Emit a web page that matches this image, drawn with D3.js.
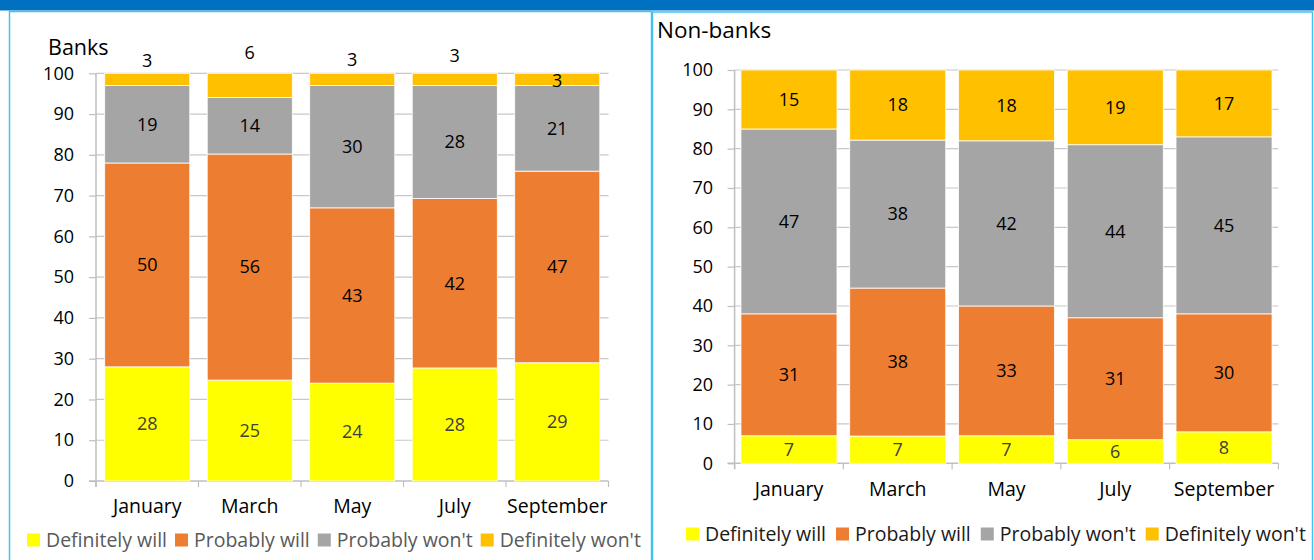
<!DOCTYPE html>
<html>
<head>
<meta charset="utf-8">
<script src="https://cdn.jsdelivr.net/npm/d3@7"></script>
<style>
  html, body { margin: 0; padding: 0; background: #fff; }
  svg { display: block; }
  text { font-family: "Open Sans", Lato, sans-serif; }
</style>
</head>
<body>
<svg id="chart" width="1314" height="560"></svg>
<script>
// ---- data ----
const months = ["January", "March", "May", "July", "September"];
const seriesNames = ["Definitely will", "Probably will", "Probably won't", "Definitely won't"];
const yTicks = [0, 10, 20, 30, 40, 50, 60, 70, 80, 90, 100];

const banksDefinitelyWill   = [28, 25, 24, 28, 29];
const banksProbablyWill     = [50, 56, 43, 42, 47];
const banksProbablyWont     = [19, 14, 30, 28, 21];
const banksDefinitelyWont   = [3, 6, 3, 3, 3];

const nonbanksDefinitelyWill = [7, 7, 7, 6, 8];
const nonbanksProbablyWill   = [31, 38, 33, 31, 30];
const nonbanksProbablyWont   = [47, 38, 42, 44, 45];
const nonbanksDefinitelyWont = [15, 18, 18, 19, 17];

const colors = ["#FFFF00", "#ED7D31", "#A5A5A5", "#FFC000"];

// ---- layout ----
const svg = d3.select("#chart");
const FONT = "Open Sans";

svg.append("rect").attr("x", 0).attr("y", 0).attr("width", 1314).attr("height", 10.5).attr("fill", "#0070C0");
svg.append("rect").attr("x", 9.5).attr("y", 11.5).attr("width", 642).attr("height", 560).attr("fill", "none").attr("stroke", "#45C1EE").attr("stroke-width", 1.5);
svg.append("rect").attr("x", 652.5).attr("y", 12).attr("width", 660).attr("height", 560).attr("fill", "none").attr("stroke", "#45C1EE").attr("stroke-width", 1.5);

function drawPanel(opt) {
  const g = svg.append("g");
  const x = d3.scaleBand().domain(months).range([opt.x0, opt.x1]).paddingInner(opt.pad).paddingOuter(opt.pad / 2);
  const y = d3.scaleLinear().domain([0, 100]).range([opt.y0, opt.y1]);

  g.append("g").selectAll("line").data(yTicks.filter(t => t > 0)).join("line")
    .attr("x1", opt.x0).attr("x2", opt.x1)
    .attr("y1", d => y(d)).attr("y2", d => y(d))
    .attr("stroke", "#C8C8C8").attr("stroke-width", 1.2);

  const yAxis = d3.axisLeft(y).tickValues(yTicks).tickSize(7).tickPadding(opt.yLabelPad);
  const ya = g.append("g").attr("transform", `translate(${opt.x0},0)`).call(yAxis);
  ya.select(".domain").attr("stroke", "#BFBFBF").attr("stroke-width", 1.5).attr("d", `M0,${opt.y1}V${opt.y0 + 6}`);
  ya.selectAll(".tick line").attr("stroke", "#BFBFBF").attr("stroke-width", 1.2);
  ya.selectAll(".tick text").attr("font-size", 18).attr("fill", "#000").attr("font-family", FONT);

  const xAxis = d3.axisBottom(x).tickSize(0).tickPadding(opt.xLabelPad);
  const xa = g.append("g").attr("transform", `translate(0,${opt.y0})`).call(xAxis);
  xa.select(".domain").attr("stroke", "#BFBFBF").attr("stroke-width", 1.5).attr("d", `M${opt.x0 - 7},0H${opt.x1}`);
  xa.selectAll(".tick text").attr("font-size", 19.5).attr("fill", "#000").attr("font-family", FONT);
  const step = x.step();
  const seps = d3.range(months.length + 1).map(i => opt.x0 + i * step);
  g.append("g").selectAll("line").data(seps).join("line")
    .attr("x1", d => d).attr("x2", d => d)
    .attr("y1", opt.y0).attr("y2", opt.y0 + 6)
    .attr("stroke", "#BFBFBF").attr("stroke-width", 1.2);

  // 100% stacked
  const rows = months.map((m, i) => {
    const vals = opt.series.map(s => s[i]);
    const tot = d3.sum(vals);
    const r = { month: m, idx: i };
    seriesNames.forEach((n, k) => { r[n] = vals[k] / tot * 100; r["raw" + k] = vals[k]; });
    return r;
  });
  const stacked = d3.stack().keys(seriesNames)(rows);

  stacked.forEach((layer, k) => {
    g.append("g").selectAll("rect").data(layer).join("rect")
      .attr("x", d => x(d.data.month))
      .attr("width", x.bandwidth())
      .attr("y", d => y(d[1]))
      .attr("height", d => y(d[0]) - y(d[1]))
      .attr("fill", colors[k])
      .attr("stroke", "#fff").attr("stroke-width", 0.8);
  });

  stacked.forEach((layer, k) => {
    g.append("g").selectAll("text").data(layer).join("text")
      .attr("x", d => x(d.data.month) + x.bandwidth() / 2)
      .attr("y", (d, i) => {
        if (k === 3 && opt.topLabelDy) return y(d[1]) + opt.topLabelDy[i];
        return y((d[0] + d[1]) / 2);
      })
      .attr("dy", "0.35em")
      .attr("text-anchor", "middle")
      .attr("font-size", 18)
      .attr("fill", k === 0 ? "#404040" : "#000")
      .text(d => d.data["raw" + k]);
  });

  g.append("text").attr("x", opt.titleX).attr("y", opt.titleY).attr("font-size", opt.titleSize).attr("fill", "#000").text(opt.title);

  const leg = g.append("g");
  let lx = opt.legX;
  seriesNames.forEach((n, k) => {
    leg.append("rect").attr("x", lx).attr("y", opt.legY - 6.5).attr("width", 13).attr("height", 13).attr("fill", colors[k]);
    const t = leg.append("text").attr("x", lx + 19).attr("y", opt.legY).attr("dy", "0.35em")
      .attr("font-size", opt.legSize).attr("fill", opt.legColor).text(n);
    lx += 19 + t.node().getComputedTextLength() + opt.legGap;
  });
}

drawPanel({
  title: "Banks", titleX: 48, titleY: 55, titleSize: 21.5,
  x0: 96, x1: 608.5, y0: 481, y1: 73.3, pad: 0.17, xLabelPad: 18, yLabelPad: 15,
  series: [banksDefinitelyWill, banksProbablyWill, banksProbablyWont, banksDefinitelyWont],
  topLabelDy: [-13, -21, -14, -18, 7],
  legX: 27, legY: 540, legGap: 8, legSize: 19.5, legColor: "#595959"
});

drawPanel({
  title: "Non-banks", titleX: 657, titleY: 38, titleSize: 22.5,
  x0: 734.6, x1: 1278.4, y0: 463.3, y1: 70, pad: 0.117, xLabelPad: 19, yLabelPad: 14.5,
  series: [nonbanksDefinitelyWill, nonbanksProbablyWill, nonbanksProbablyWont, nonbanksDefinitelyWont],
  topLabelDy: null,
  legX: 686, legY: 534, legGap: 10, legSize: 19.5, legColor: "#1a1a1a"
});
</script>
</body>
</html>
